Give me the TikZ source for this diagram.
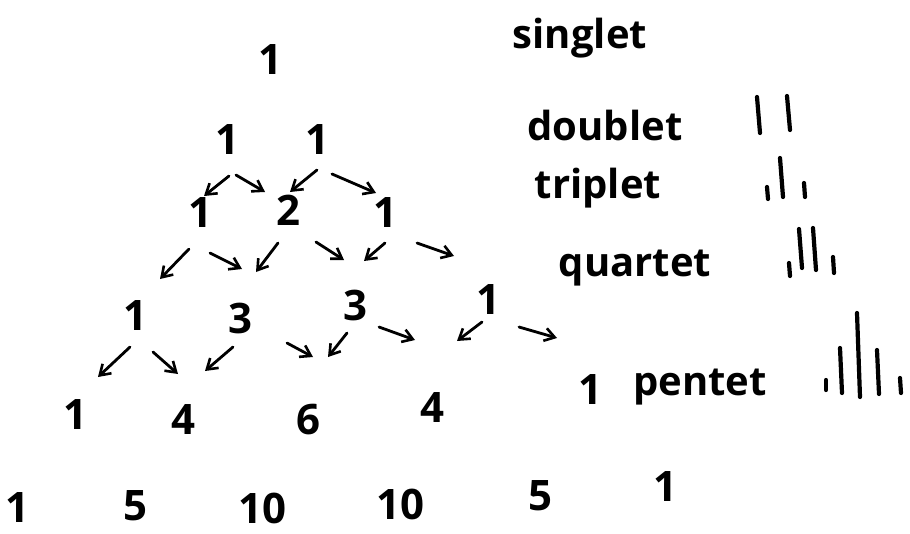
\documentclass[tikz,border=0pt]{standalone}
\usepackage{fontspec}
\setmainfont{Open Sans}
\usetikzlibrary{arrows.meta}
\begin{document}
\begin{tikzpicture}[x=1pt,y=-1pt,
  num/.style={font=\fontsize{42}{46}\selectfont\bfseries, inner sep=0pt},
  lab/.style={font=\fontsize{40}{44}\selectfont\bfseries, inner sep=0pt},
  arr/.style={line width=2.8pt, line cap=round, -{Straight Barb[length=10pt,width=13pt,line width=2.6pt]}},
  stick/.style={line width=4.2pt, line cap=round}]
\path[use as bounding box, fill=white] (0,0) rectangle (910,533);
% row 0
\node[num] (a0) at (270,60) {1};
% row 1
\node[num] (b0) at (227,140) {1};
\node[num] (b1) at (317,140) {1};
% row 2
\node[num] (c0) at (200,213) {1};
\node[num] (c1) at (288,210) {2};
\node[num] (c2) at (385,213) {1};
% row 3
\node[num] (d0) at (135,316) {1};
\node[num] (d1) at (240,318) {3};
\node[num] (d2) at (355,305) {3};
\node[num] (d3) at (488,300) {1};
% row 4
\node[num] (e0) at (75,415) {1};
\node[num] (e1) at (183,420) {4};
\node[num] (e2) at (308,420) {6};
\node[num] (e3) at (432,408) {4};
\node[num] (e4) at (590,390) {1};
% row 5
\node[num] (f0) at (17,508) {1};
\node[num] (f1) at (135,506) {5};
\node[num] (f2) at (262,508) {10};
\node[num] (f3) at (400,504) {10};
\node[num] (f4) at (540,496) {5};
\node[num] (f5) at (665,487) {1};
% labels
\node[lab] (ls) at (580,38) {singlet};
\node[lab] (ld) at (605,125) {doublet};
\node[lab] (lt) at (598,188) {triplet};
\node[lab] (lq) at (635,268) {quartet};
\node[lab] (lp) at (700,387) {pentet};
% arrow coordinates
\coordinate (p1s) at (229,176); \coordinate (p1e) at (204,196);
\coordinate (p2s) at (236,175); \coordinate (p2e) at (265,192);
\coordinate (p3s) at (317,170); \coordinate (p3e) at (290,192);
\coordinate (p4s) at (332,174); \coordinate (p4e) at (376,193);
\coordinate (p5s) at (189,249); \coordinate (p5e) at (160,279);
\coordinate (p6s) at (210,253); \coordinate (p6e) at (242,269);
\coordinate (p7s) at (278,243); \coordinate (p7e) at (256,272);
\coordinate (p8s) at (316,242); \coordinate (p8e) at (344,260);
\coordinate (p9s) at (385,243); \coordinate (p9e) at (364,261);
\coordinate (p10s) at (417,243); \coordinate (p10e) at (454,256);
\coordinate (p11s) at (130,347); \coordinate (p11e) at (98,377);
\coordinate (p12s) at (153,352); \coordinate (p12e) at (178,374);
\coordinate (p13s) at (233,347); \coordinate (p13e) at (205,371);
\coordinate (p14s) at (287,343); \coordinate (p14e) at (313,357);
\coordinate (p15s) at (347,333); \coordinate (p15e) at (328,357);
\coordinate (p16s) at (379,327); \coordinate (p16e) at (415,340);
\coordinate (p17s) at (482,322); \coordinate (p17e) at (457,341);
\coordinate (p18s) at (519,327); \coordinate (p18e) at (557,338);
\foreach \i in {1,...,18} \draw[arr] (p\i s) -- (p\i e);
% stick spectra
\coordinate (dA) at (757,97); \coordinate (dB) at (760,133);
\coordinate (dC) at (787,96); \coordinate (dD) at (790,130);
\draw[stick] (dA) -- (dB); \draw[stick] (dC) -- (dD);
\coordinate (tA) at (767,187); \coordinate (tB) at (768,199);
\coordinate (tC) at (780,158); \coordinate (tD) at (783,197);
\coordinate (tE) at (804,183); \coordinate (tF) at (805,197);
\draw[stick] (tA) -- (tB); \draw[stick] (tC) -- (tD); \draw[stick] (tE) -- (tF);
\coordinate (qA) at (789,263); \coordinate (qB) at (790,276);
\coordinate (qC) at (799,229); \coordinate (qD) at (802,268);
\coordinate (qE) at (813,228); \coordinate (qF) at (816,270);
\coordinate (qG) at (833,257); \coordinate (qH) at (834,273);
\draw[stick] (qA) -- (qB); \draw[stick] (qC) -- (qD); \draw[stick] (qE) -- (qF); \draw[stick] (qG) -- (qH);
\coordinate (nA) at (826,380); \coordinate (nB) at (826,390);
\coordinate (nC) at (840,348); \coordinate (nD) at (842,393);
\coordinate (nE) at (857,313); \coordinate (nF) at (860,397);
\coordinate (nG) at (877,350); \coordinate (nH) at (879,394);
\coordinate (nI) at (900,378); \coordinate (nJ) at (901,393);
\draw[stick] (nA) -- (nB); \draw[stick] (nC) -- (nD); \draw[stick] (nE) -- (nF); \draw[stick] (nG) -- (nH); \draw[stick] (nI) -- (nJ);
\end{tikzpicture}
\end{document}
